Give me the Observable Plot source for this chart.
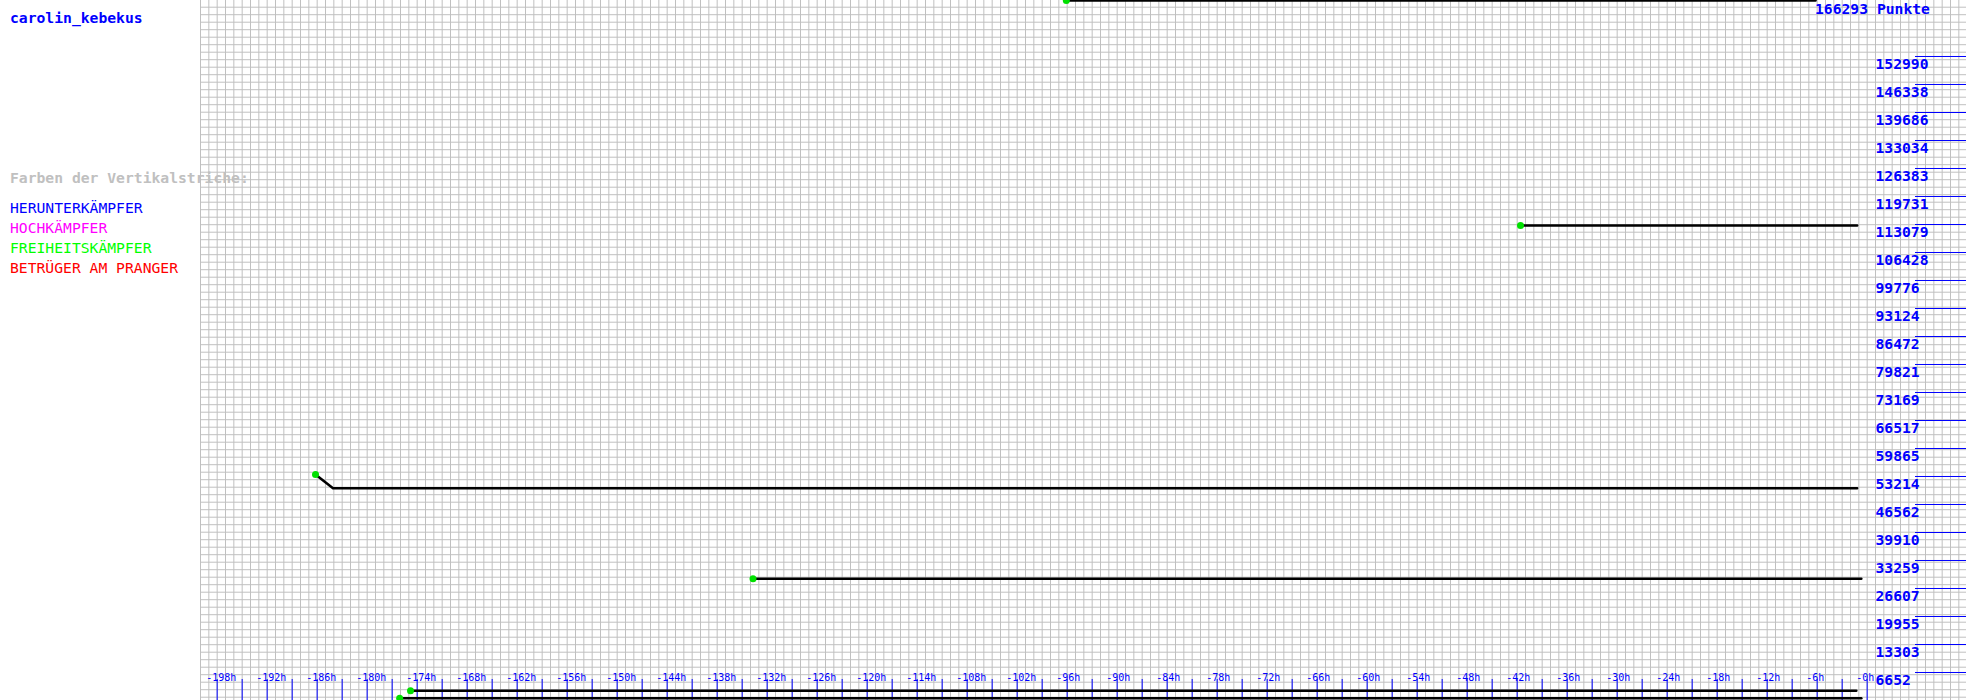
<!DOCTYPE html>
<html>
<head>
<meta charset="utf-8">
<script src="https://cdn.jsdelivr.net/npm/d3@7"></script>
<script src="https://cdn.jsdelivr.net/npm/@observablehq/plot@0.6"></script>
<style>
  html, body { margin: 0; padding: 0; background: #fff; }
  #wrap { position: relative; width: 1966px; height: 700px; overflow: hidden; }
  #wrap svg { position: absolute; left: 0; top: 0; }
  .lbl { position: absolute; left: 10px; font-family: "DejaVu Sans Mono", monospace; font-size: 14.7px; font-weight: bold; white-space: nowrap; line-height: 1; }
  .reg { font-weight: normal; }
</style>
</head>
<body>
<div id="wrap">
  <div class="lbl" style="top:11px;color:#0000ff;">carolin_kebekus</div>
  <div class="lbl" style="top:171px;color:#c0c0c0;z-index:2;">Farben der Vertikalstriche:</div>
  <div class="lbl reg" style="top:201px;color:#0000ff;">HERUNTERKÄMPFER</div>
  <div class="lbl reg" style="top:221px;color:#ff00ff;">HOCHKÄMPFER</div>
  <div class="lbl reg" style="top:241px;color:#00ff00;">FREIHEITSKÄMPFER</div>
  <div class="lbl reg" style="top:261px;color:#ff0000;">BETRÜGER AM PRANGER</div>
  <div class="lbl" style="left:1815px;top:0px;line-height:normal;color:#0000ff;z-index:2;">166293 Punkte</div>
</div>
<script>
// ---- data ----
const maxPoints = 166293;

const yTickValues = [6652, 13303, 19955, 26607, 33259, 39910, 46562, 53214, 59865, 66517,
  73169, 79821, 86472, 93124, 99776, 106428, 113079, 119731, 126383, 133034, 139686, 146338, 152990];

const xTickHours = [-198, -195, -192, -189, -186, -183, -180, -177, -174, -171, -168, -165, -162,
  -159, -156, -153, -150, -147, -144, -141, -138, -135, -132, -129, -126, -123, -120, -117, -114,
  -111, -108, -105, -102, -99, -96, -93, -90, -87, -84, -81, -78, -75, -72, -69, -66, -63, -60,
  -57, -54, -51, -48, -45, -42, -39, -36, -33, -30, -27, -24, -21, -18, -15, -12, -9, -6, -3, 0];

const xLabelHours = [-198, -192, -186, -180, -174, -168, -162, -156, -150, -144, -138, -132, -126,
  -120, -114, -108, -102, -96, -90, -84, -78, -72, -66, -60, -54, -48, -42, -36, -30, -24, -18, -12, -6, 0];
const xLabelTexts = ["-198h", "-192h", "-186h", "-180h", "-174h", "-168h", "-162h", "-156h", "-150h",
  "-144h", "-138h", "-132h", "-126h", "-120h", "-114h", "-108h", "-102h", "-96h", "-90h", "-84h",
  "-78h", "-72h", "-66h", "-60h", "-54h", "-48h", "-42h", "-36h", "-30h", "-24h", "-18h", "-12h", "-6h", "-0h"];

// series: [hour, points]
const lineA = [[-96.1, 166293], [-6.2, 166293]];
const lineB = [[-41.6, 112840], [-1.2, 112840]];
const lineC = [[-186.2, 53690], [-184.1, 50430], [-1.2, 50430]];
const lineD = [[-133.7, 28910], [-0.7, 28910]];
const lineE = [[-174.8, 2300], [-1.3, 2300]];
const lineF = [[-176.1, 550], [-0.7, 550]];
const allLines = [lineA, lineB, lineC, lineD, lineE, lineF];

// ---- layout helpers (background grid, not data) ----
const H = 700;
const pxToPts = px => maxPoints * (1 - px / H);
const gridHours = d3.range(-200, 12);
const gridRows = d3.range(1, 94).map(k => pxToPts(7.5 * k - 0.8));

const font = "DejaVu Sans Mono, monospace";

const marks = [
  Plot.ruleX(gridHours, {stroke: "#c0c0c0", strokeWidth: 1}),
  Plot.ruleY(gridRows, {x1: -200, x2: 12, stroke: "#c0c0c0", strokeWidth: 1}),
  Plot.ruleY(yTickValues, {x1: 5.8, x2: 12, stroke: "#0000ff", strokeWidth: 1}),
  Plot.text(yTickValues, {x: 1.0, y: d => d, text: d => String(d), textAnchor: "start", lineAnchor: "middle",
    dy: 8, fill: "#0000ff", fontFamily: font, fontSize: 14.7, fontWeight: "bold"}),
  Plot.ruleX(xTickHours, {y1: 0, y2: pxToPts(679), stroke: "#0000ff", strokeWidth: 1}),
  Plot.text(xLabelHours, {x: d => d, y: 0, text: (d, i) => xLabelTexts[i], textAnchor: "start", lineAnchor: "middle",
    dx: -11, dy: -23, fill: "#0000ff", fontFamily: font, fontSize: 10})
];
for (const ln of allLines) {
  marks.push(Plot.line(ln, {x: d => d[0], y: d => d[1], stroke: "#000", strokeWidth: 2.5}));
}
marks.push(Plot.dot(allLines.map(l => l[0]), {x: d => d[0], y: d => d[1], r: 3.5, fill: "#00e000", stroke: "none"}));

const chart = Plot.plot({
  width: 1966,
  height: H,
  margin: 0,
  style: {background: "transparent", overflow: "visible"},
  x: {type: "linear", domain: [-200, 0], range: [200, 1866.67], axis: null},
  y: {type: "linear", domain: [0, maxPoints], range: [H, 0], axis: null},
  marks
});
document.getElementById("wrap").prepend(chart);
</script>
</body>
</html>
